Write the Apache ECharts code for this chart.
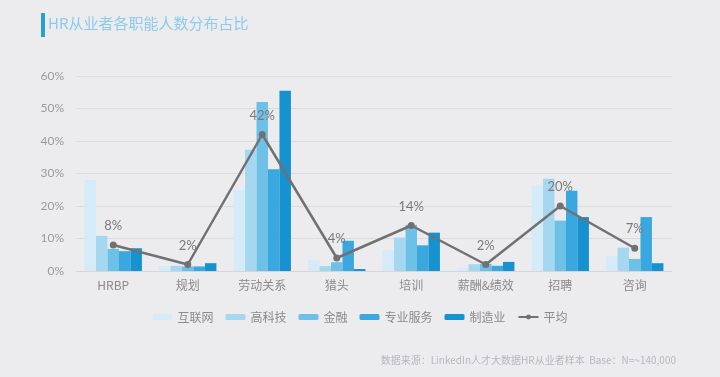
<!DOCTYPE html>
<html>
<head>
<meta charset="utf-8">
<script src="https://cdn.jsdelivr.net/npm/echarts@6/dist/echarts.min.js"></script>
<style>
  html, body { margin: 0; padding: 0; background: #ececef; }
  #main { width: 720px; height: 377px; }
</style>
</head>
<body>
<div id="main"></div>
<script>
// 职能分类
var categories = ['HRBP', '规划', '劳动关系', '猎头', '培训', '薪酬&绩效', '招聘', '咨询'];
// 各行业占比 (%)
var hulianwang = [28, 1.5, 25, 3.4, 6.4, 1, 26.3, 4.6];
var gaokeji = [10.8, 1.6, 37.3, 1.5, 10.3, 2.1, 28.4, 7.2];
var jinrong = [6.8, 1.4, 52, 2.7, 14.2, 2.2, 15.5, 3.7];
var zhuanye = [6.1, 1.4, 31.3, 9.3, 7.9, 1.6, 24.7, 16.6];
var zhizao = [7, 2.4, 55.5, 0.6, 11.8, 2.8, 16.6, 2.4];
var pingjun = [8, 2, 42, 4, 14, 2, 20, 7];
var yTicks = [0, 10, 20, 30, 40, 50, 60];

var colors = ['#d5ebf8', '#a5d7f1', '#6ec1e6', '#3aa8de', '#1592cf'];
var names = ['互联网', '高科技', '金融', '专业服务', '制造业'];
var barData = [hulianwang, gaokeji, jinrong, zhuanye, zhizao];

var myChart = echarts.init(document.getElementById('main'));

var series = [];
for (var i = 0; i < names.length; i++) {
    series.push({
        name: names[i],
        type: 'bar',
        barGap: 0,
        barCategoryGap: '23%',
        itemStyle: { color: colors[i] },
        data: barData[i]
    });
}
series.push({
    name: '平均',
    type: 'line',
    symbol: 'circle',
    symbolSize: 7,
    z: 5,
    lineStyle: { color: '#717171', width: 2.5 },
    itemStyle: { color: '#717171' },
    label: {
        show: true,
        position: 'top',
        distance: 9,
        color: '#7a7a7a',
        fontSize: 13,
        fontFamily: 'Lato',
        formatter: '{c}%'
    },
    data: pingjun
});

var option = {
    backgroundColor: '#ececef',
    animation: false,
    title: {
        text: 'HR从业者各职能人数分布占比',
        left: 48,
        top: 16,
        padding: 0,
        textStyle: {
            color: '#8ccbea',
            fontSize: 15,
            fontWeight: 'normal',
            fontFamily: 'Noto Sans CJK SC'
        }
    },
    graphic: [{
        type: 'rect',
        left: 41,
        top: 13,
        shape: { width: 4, height: 24 },
        style: { fill: '#2a9fd4' }
    }, {
        type: 'text',
        right: 44,
        top: 355,
        style: {
            text: '数据来源：LinkedIn人才大数据HR从业者样本  Base：N=~140,000',
            fill: '#b8b8bc',
            fontSize: 10,
            fontFamily: 'Noto Sans CJK SC'
        }
    }],
    legend: {
        data: ['互联网', '高科技', '金融', '专业服务', '制造业', '平均'],
        left: 'center',
        top: 306,
        itemWidth: 20,
        itemHeight: 6,
        itemGap: 12,
        textStyle: { color: '#8a8a8a', fontSize: 12, fontFamily: 'Noto Sans CJK SC' }
    },
    grid: {
        left: 76,
        right: 48,
        top: 76,
        bottom: 106
    },
    xAxis: {
        type: 'category',
        data: categories,
        axisLine: { lineStyle: { color: '#d6d6da' } },
        axisTick: { show: false },
        axisLabel: { color: '#8a8a8a', fontSize: 12, margin: 8, fontFamily: 'Noto Sans CJK SC' }
    },
    yAxis: {
        type: 'value',
        min: yTicks[0],
        max: yTicks[yTicks.length - 1],
        interval: 10,
        axisLine: { show: false },
        axisTick: { show: false },
        splitLine: { lineStyle: { color: '#dcdce0' } },
        axisLabel: {
            color: '#9a9a9a',
            fontSize: 12,
            margin: 12,
            fontFamily: 'Lato',
            formatter: '{value}%'
        }
    },
    series: series
};

myChart.setOption(option);
</script>
</body>
</html>
